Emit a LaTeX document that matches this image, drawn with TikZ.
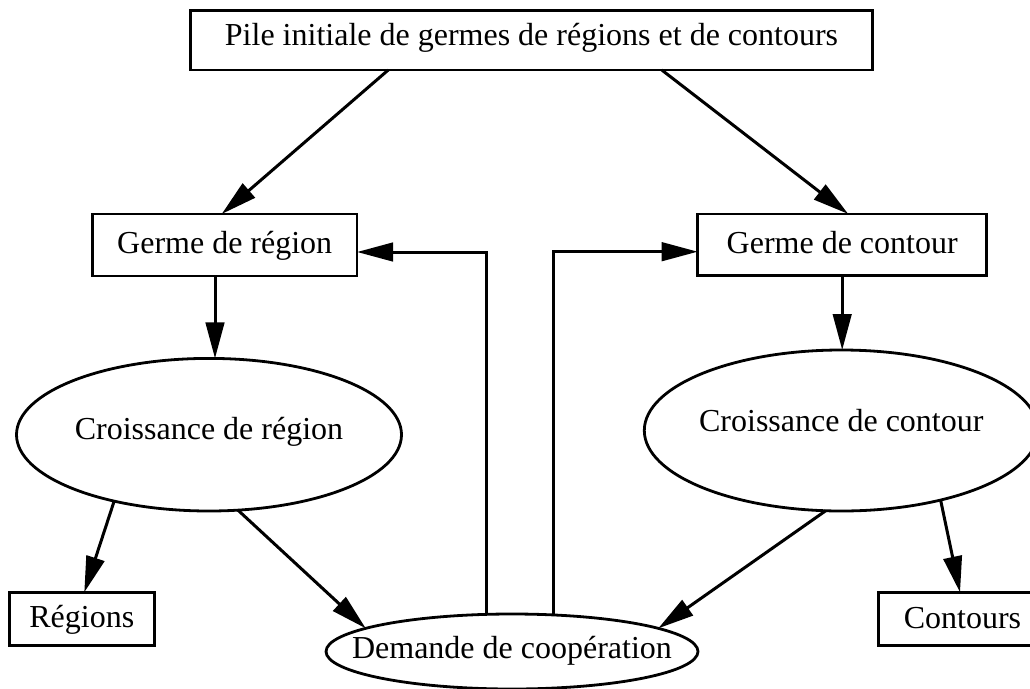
\documentclass[tikz,border=0pt]{standalone}
\usepackage{fontspec}
\setmainfont{Liberation Serif}
\usetikzlibrary{shapes.geometric,arrows.meta,calc}
\tikzset{
  box/.style={draw, rectangle, line width=2.8pt, inner sep=0pt, outer sep=0pt,
    font=\fontsize{32}{38}\selectfont, text height=22pt},
  oval/.style={draw, ellipse, line width=2.8pt, inner xsep=-80pt, inner ysep=0pt, outer sep=0pt,
    font=\fontsize{32}{38}\selectfont, text height=22pt},
  conn/.style={line width=3pt, -{Triangle[length=36pt,width=18.5pt]}}
}
\begin{document}
\begin{tikzpicture}[x=1pt,y=-1pt]
\useasboundingbox (0,0) rectangle (1030,688);
\clip (0,0) rectangle (1030,688);
\node[box, minimum width=681.6pt, minimum height=59.3pt, text depth=12.6pt] (top) at (531.5,40.3) {Pile initiale de germes de régions et de contours};
\node[box, minimum width=264.7pt, minimum height=62pt, text depth=5.4pt] (gr) at (224.7,245) {Germe de région};
\node[box, minimum width=289pt, minimum height=61.5pt, text depth=4.8pt] (gc) at (842.2,244.7) {Germe de contour};
\node[oval, minimum width=385pt, minimum height=152.6pt, text depth=13.4pt] (cr) at (209,434.7) {Croissance de région};
\node[oval, minimum width=394pt, minimum height=161pt, text depth=19.6pt] (cc) at (841.3,430.5) {Croissance de contour};
\node[box, minimum width=145pt, minimum height=53.4pt, text depth=4.6pt] (reg) at (81.8,619) {Régions};
\node[box, minimum width=168.4pt, minimum height=53.4pt, text depth=3.4pt] (cont) at (962.5,619) {Contours};
\node[oval, minimum width=372pt, minimum height=75pt, text depth=8.4pt] (dem) at (512,651.5) {Demande de coopération};

\draw[conn] ([xshift=-143.2pt]top.south) -- ([xshift=-3pt]gr.north);
\draw[conn] ([xshift=130.2pt]top.south) -- ([xshift=6pt]gc.north);
\draw[conn] ([xshift=-9.7pt]gr.south) -- ([xshift=-9.7pt]gr.south |- cr.north);
\draw[conn] (gc.south) -- (gc.south |- cc.north);
\draw[conn] (cr.215.8) -- ([xshift=2.5pt]reg.north);
\draw[conn] (cr.-69.4) -- (dem.171.1);
\draw[conn] (cc.259.1) -- (dem.9.4);
\draw[conn] (cc.-35.2) -- ([xshift=-2.5pt]cont.north);
\draw[conn] ([xshift=-25.3pt]dem.north) |- ([yshift=-7pt]gr.east);
\draw[conn] ([xshift=41.3pt]dem.north) |- ([yshift=-7pt]gc.west);
\end{tikzpicture}
\end{document}
